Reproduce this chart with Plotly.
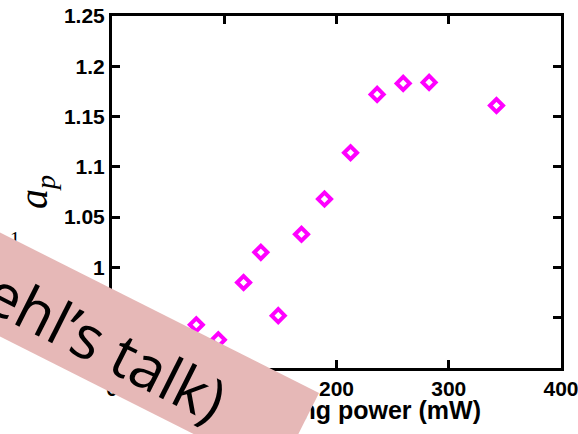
import math
import plotly.graph_objects as go

# Measured points
power_mw = [75.1, 94.7, 117.2, 132.6, 148.1, 168.8, 189.3, 212.5, 236.2, 259.4, 282.5, 342.5]
a_p = [0.943, 0.928, 0.985, 1.015, 0.952, 1.033, 1.068, 1.114, 1.172, 1.183, 1.184, 1.161]

x_ticks = [0, 100, 200, 300, 400]
y_ticks = [0.9, 0.95, 1.0, 1.05, 1.1, 1.15, 1.2, 1.25]
y_tick_labels = ["0.9", "0.95", "1", "1.05", "1.1", "1.15", "1.2", "1.25"]
x_range = [0, 400]
y_range = [0.9, 1.25]

x_title = "Pumping power (mW)"
y_title = "<i>a</i><sub><i>p</i></sub>"
banner_text = "(see S. Diehl\u2019s talk)"

W, H = 578, 434
# plot box in pixels (left, right, top, bottom)
BL, BR, BT, BB = 112, 561, 16, 368

fig = go.Figure()

fig.add_trace(go.Scatter(
    x=power_mw, y=a_p, mode="markers", xaxis="x", yaxis="y",
    marker=dict(symbol="diamond-open", size=10, color="#ff00ff",
                line=dict(width=4, color="#ff00ff")),
    showlegend=False, hoverinfo="skip",
))

# full-canvas pixel overlay: axis caption and a stray glyph sit under the banner
fig.add_trace(go.Scatter(
    x=[481], y=[413], mode="text", text=[x_title], xaxis="x2", yaxis="y2",
    textposition="middle left",
    textfont=dict(family="Liberation Sans", size=25, color="black", weight="bold"),
    cliponaxis=False, showlegend=False, hoverinfo="skip",
))
fig.add_trace(go.Scatter(
    x=[15], y=[241], mode="text", text=["1"], xaxis="x2", yaxis="y2",
    textposition="middle center",
    textfont=dict(family="Liberation Serif", size=20, color="black"),
    cliponaxis=False, showlegend=False, hoverinfo="skip",
))

# tilted banner
theta = math.atan2(393 - 233, 318 - 0)
ux, uy = math.cos(theta), math.sin(theta)
nx, ny = -math.sin(theta), math.cos(theta)
thick = 93
tr = (319, 393)
tl = (tr[0] - 900 * ux, tr[1] - 900 * uy)
br = (tr[0] + thick * nx, tr[1] + thick * ny)
bl = (tl[0] + thick * nx, tl[1] + thick * ny)
path = "M {} {} L {} {} L {} {} L {} {} Z".format(
    *[v for p in (tl, tr, br, bl) for v in (p[0] / W, 1 - p[1] / H)])
fig.add_shape(type="path", path=path, xref="paper", yref="paper",
              fillcolor="#e6b8b7", line=dict(width=0), layer="above")

# banner caption, centred along the banner's axis
c0 = (0 + thick / 2 * nx, 233 + thick / 2 * ny)
s_along, s_perp = 19, 6
cx = c0[0] + s_along * ux + s_perp * nx
cy = c0[1] + s_along * uy + s_perp * ny
fig.add_annotation(
    x=cx / W, y=1 - cy / H, xref="paper", yref="paper",
    text=banner_text, showarrow=False, textangle=math.degrees(theta),
    xanchor="center", yanchor="middle",
    font=dict(family="Open Sans", size=60, color="black"),
)

fig.add_annotation(
    x=36 / W, y=1 - 192 / H, xref="paper", yref="paper",
    text=y_title, showarrow=False, textangle=-90,
    xanchor="center", yanchor="middle",
    font=dict(family="Liberation Serif", size=40, color="black"),
)

axis_common = dict(
    showline=True, linewidth=3, linecolor="black", mirror="ticks",
    ticks="inside", ticklen=8, tickwidth=3, tickcolor="black",
    showgrid=False, zeroline=False, ticklabeloverflow="allow", automargin=False,
    tickfont=dict(family="Liberation Sans", size=21, color="black", weight="bold"),
)

fig.update_layout(
    width=W, height=H, autosize=False,
    margin=dict(l=0, r=0, t=0, b=0, pad=0, autoexpand=False),
    paper_bgcolor="white", plot_bgcolor="rgba(0,0,0,0)",
    font=dict(family="Liberation Sans", color="black"),
    xaxis=dict(domain=[BL / W, BR / W], range=x_range, tickvals=x_ticks,
               ticktext=[str(v) for v in x_ticks], anchor="y", **axis_common),
    yaxis=dict(domain=[1 - BB / H, 1 - BT / H], range=y_range, tickvals=y_ticks,
               ticktext=y_tick_labels, anchor="x", **axis_common),
    xaxis2=dict(domain=[0, 1], range=[0, W], visible=False, anchor="y2",
                fixedrange=True),
    yaxis2=dict(domain=[0, 1], range=[H, 0], visible=False, anchor="x2",
                fixedrange=True),
)

fig.write_html("out.html")
